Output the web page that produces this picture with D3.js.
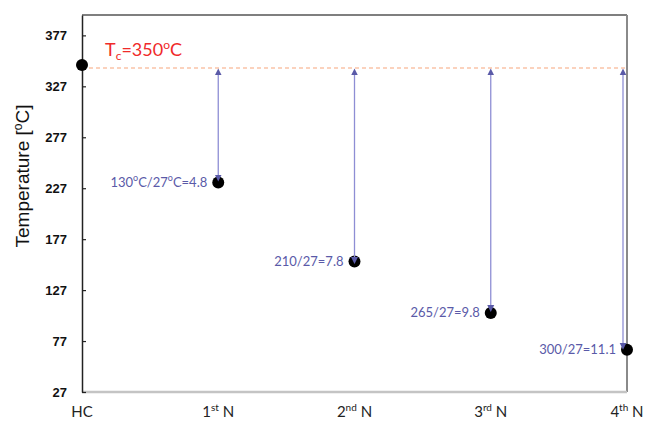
<!DOCTYPE html>
<html>
<head>
<meta charset="utf-8">
<script src="https://cdn.jsdelivr.net/npm/d3@7"></script>
<style>
  body { margin: 0; background: #fff; }
  svg { display: block; }
</style>
</head>
<body>
<svg id="viz" width="649" height="421"></svg>
<script>
// data
var categories = ["HC", "1st N", "2nd N", "3rd N", "4th N"];
var temps = [348, 232.5, 155, 104.5, 68.5];
var tcValue = 345;                 // where the dashed Tc line sits
var arrowEnds = [null, 237, 156, 109, 72];
var ratioLabels = [null, "130oC/27oC=4.8", "210/27=7.8", "265/27=9.8", "300/27=11.1"];
var yTicks = [27, 77, 127, 177, 227, 277, 327, 377];

var svg = d3.select("#viz");
var margin = { top: 15, left: 82, right: 627, bottom: 392 };

var x = d3.scalePoint().domain(categories).range([margin.left, margin.right]);
var y = d3.scaleLinear().domain([27, 397]).range([margin.bottom, margin.top]);

var purple = "#5a5aa8";

// plot frame (top / right / bottom)
svg.append("line").attr("x1", margin.left).attr("x2", margin.right)
    .attr("y1", margin.top).attr("y2", margin.top)
    .attr("stroke", "#555").attr("stroke-width", 1.5);
svg.append("line").attr("x1", margin.right).attr("x2", margin.right)
    .attr("y1", margin.top).attr("y2", margin.bottom)
    .attr("stroke", "#8a8a8a").attr("stroke-width", 2);
svg.append("line").attr("x1", margin.left).attr("x2", margin.right)
    .attr("y1", margin.bottom).attr("y2", margin.bottom)
    .attr("stroke", "#c4c4c4").attr("stroke-width", 2.5);

// y axis with inward ticks
var yAxis = svg.append("g")
    .attr("transform", "translate(" + margin.left + ",0)")
    .call(d3.axisRight(y).tickValues(yTicks).tickSize(4).tickSizeOuter(0).tickFormat(d3.format("d")));
yAxis.select(".domain").attr("stroke", "#222").attr("stroke-width", 1.5);
yAxis.selectAll(".tick line").attr("stroke", "#222").attr("stroke-width", 1.2);
yAxis.selectAll(".tick text")
    .attr("x", -15).attr("text-anchor", "end")
    .style("font-family", "'Liberation Sans', Arial, sans-serif")
    .style("font-weight", "bold").style("font-size", "13px").attr("fill", "#111");

// axis title
var yt = svg.append("text")
    .attr("transform", "translate(29,176) rotate(-90)")
    .attr("text-anchor", "middle")
    .style("font-family", "'Liberation Sans', Arial, sans-serif")
    .style("font-size", "19px").attr("fill", "#111");
yt.append("tspan").text("Temperature [");
yt.append("tspan").text("o").attr("dy", -7).style("font-size", "12px");
yt.append("tspan").text("C]").attr("dy", 7);

// x labels with superscripts
var xl = svg.selectAll(".xlab").data(categories).enter().append("text")
    .attr("class", "xlab")
    .attr("x", function (d) { return x(d); })
    .attr("y", 417)
    .attr("text-anchor", "middle")
    .style("font-family", "Lato, 'Open Sans', sans-serif")
    .style("font-size", "15px").attr("fill", "#222");
xl.each(function (d) {
    var t = d3.select(this);
    var m = d.match(/^(\d)(st|nd|rd|th) (.*)$/);
    if (!m) { t.text(d); return; }
    t.append("tspan").text(m[1]);
    t.append("tspan").text(m[2]).attr("dy", -6).style("font-size", "10px");
    t.append("tspan").text(" " + m[3]).attr("dy", 6);
});

// Tc dashed line
svg.append("line")
    .attr("x1", margin.left).attr("x2", margin.right)
    .attr("y1", y(tcValue)).attr("y2", y(tcValue))
    .attr("stroke", "#f7a57c").attr("stroke-width", 1.2)
    .attr("stroke-dasharray", "4,3");

var tc = svg.append("text")
    .attr("x", 105).attr("y", 56)
    .style("font-family", "Lato, 'Open Sans', sans-serif")
    .style("font-size", "18px").attr("fill", "#f02a2a");
tc.append("tspan").text("T");
tc.append("tspan").text("c").attr("dy", 4).style("font-size", "12px");
tc.append("tspan").text("=350").attr("dy", -4);
tc.append("tspan").text("o").attr("dy", -7).style("font-size", "12px");
tc.append("tspan").text("C").attr("dy", 7);

// arrow markers
var defs = svg.append("defs");
defs.append("marker").attr("id", "ah").attr("viewBox", "0 0 10 10")
    .attr("refX", 5).attr("refY", 5).attr("markerWidth", 7).attr("markerHeight", 8)
    .attr("markerUnits", "userSpaceOnUse").attr("orient", "auto-start-reverse")
    .append("path").attr("d", "M0,0 L10,5 L0,10 Z").attr("fill", purple);

// points
svg.selectAll(".pt").data(temps).enter().append("circle")
    .attr("class", "pt")
    .attr("cx", function (d, i) { return x(categories[i]); })
    .attr("cy", function (d) { return y(d); })
    .attr("r", 6).attr("fill", "#000");

// double arrows
var arrowData = categories.map(function (c, i) { return { c: c, end: arrowEnds[i], i: i }; })
    .filter(function (d) { return d.end !== null; });
svg.selectAll(".arr").data(arrowData).enter().append("line")
    .attr("class", "arr")
    .attr("x1", function (d) { return x(d.c) - (d.i === categories.length - 1 ? 4 : 0); })
    .attr("x2", function (d) { return x(d.c) - (d.i === categories.length - 1 ? 4 : 0); })
    .attr("y1", y(tcValue) + 4)
    .attr("y2", function (d) { return y(d.end); })
    .attr("stroke", "#8e8ed4").attr("stroke-width", 1.3)
    .attr("marker-start", "url(#ah)").attr("marker-end", "url(#ah)");

// ratio labels
var rl = svg.selectAll(".rl").data(arrowData).enter().append("text")
    .attr("class", "rl")
    .attr("x", function (d) { return x(d.c) - 11; })
    .attr("y", function (d) { return y(temps[d.i]) + 1; })
    .attr("text-anchor", "end")
    .attr("dominant-baseline", "middle")
    .style("font-family", "Lato, 'Open Sans', sans-serif")
    .style("font-size", "13px").attr("fill", purple);
rl.each(function (d) {
    var t = d3.select(this);
    var parts = ratioLabels[d.i].split("o");
    parts.forEach(function (p, k) {
        if (k > 0) {
            t.append("tspan").text("o").attr("dy", -5).style("font-size", "9px");
            t.append("tspan").text(p).attr("dy", 5);
        } else {
            t.append("tspan").text(p);
        }
    });
});
</script>
</body>
</html>
